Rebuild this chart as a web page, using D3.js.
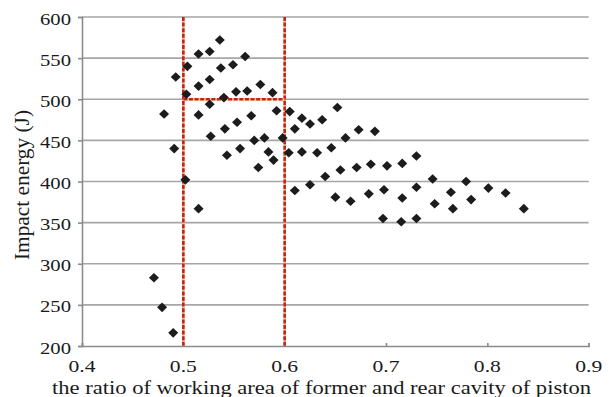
<!DOCTYPE html>
<html>
<head>
<meta charset="utf-8">
<script src="https://cdn.jsdelivr.net/npm/d3@7"></script>
<style>
html,body{margin:0;padding:0;background:#fff;}
svg{display:block;}
</style>
</head>
<body>
<svg id="chart" width="612" height="397"></svg>
<script>
// Data
const ratio = [0.471,0.479,0.490,0.481,0.491,0.4925,0.502,0.503,0.504,0.515,0.515,0.515,0.515,0.526,0.526,0.526,0.527,0.536,0.537,0.540,0.541,0.543,0.549,0.552,0.553,0.556,0.561,0.563,0.567,0.570,0.574,0.576,0.580,0.584,0.588,0.589,0.592,0.598,0.605,0.604,0.610,0.617,0.617,0.625,0.610,0.625,0.632,0.637,0.640,0.646,0.650,0.652,0.655,0.660,0.665,0.671,0.673,0.683,0.685,0.689,0.697,0.698,0.701,0.715,0.716,0.716,0.730,0.730,0.730,0.746,0.748,0.764,0.766,0.779,0.784,0.801,0.818,0.836];
const energy = [283,247,216,482,440,527,402,506,540,555,516,481,367,558,524,494,455,572,538,502,464,432,542,509,472,440,552,510,480,450,417,518,453,436,508,426,486,453,485,435,464,477,436,470,389,396,435,475,406,441,381,490,414,453,376,417,463,385,421,461,355,390,419,351,380,422,431,393,355,403,373,387,367,400,378,392,386,367];
const xTicks = [0.4,0.5,0.6,0.7,0.8,0.9];
const yTicks = [200,250,300,350,400,450,500,550,600];
const refX = [0.5,0.6];
const refY = [500];
const xTitle = "the ratio of working area of former and rear cavity of piston";
const yTitle = "Impact energy (J)";

const FONT = '"Liberation Serif"';
const svg = d3.select("#chart");
const x = d3.scaleLinear().domain([0.4,0.9]).range([82,588.7]);
const y = d3.scaleLinear().domain([200,600]).range([346,17]);

// horizontal gridlines
svg.append("g").selectAll("line").data(yTicks.filter(d=>d>200)).join("line")
  .attr("x1",x(0.4)).attr("x2",x(0.9))
  .attr("y1",d=>y(d)).attr("y2",d=>y(d))
  .attr("stroke","#a6a6a6").attr("stroke-width",1.6);

// y axis
const yAxis = svg.append("g").attr("transform",`translate(${x(0.4)},0)`)
  .call(d3.axisLeft(y).tickValues(yTicks).tickSize(4).tickFormat(""));
yAxis.selectAll("path,line").attr("stroke","#8c8c8c").attr("stroke-width",1.6);
svg.append("g").selectAll("text").data(yTicks).join("text")
  .style("font-family",FONT).attr("fill","#1a1a1a")
  .attr("x",71).attr("y",d=>y(d)+7.5)
  .attr("text-anchor","end").attr("font-size",17)
  .attr("textLength",31).attr("lengthAdjust","spacingAndGlyphs")
  .text(d=>d);

// x axis
const xAxis = svg.append("g").attr("transform",`translate(0,${y(200)})`)
  .call(d3.axisBottom(x).tickValues(xTicks).tickSize(-3).tickFormat(""));
xAxis.selectAll("path,line").attr("stroke","#8c8c8c").attr("stroke-width",1.6);
svg.append("g").selectAll("text").data(xTicks).join("text")
  .style("font-family",FONT).attr("fill","#1a1a1a")
  .attr("x",d=>x(d)).attr("y",372)
  .attr("text-anchor","middle").attr("font-size",17.5)
  .attr("textLength",27).attr("lengthAdjust","spacingAndGlyphs")
  .text(d=>d3.format(".1f")(d));

// reference lines (red dashed)
const refG = svg.append("g");
function refLine(x1,x2,y1,y2){
  refG.append("line").attr("x1",x1).attr("x2",x2).attr("y1",y1).attr("y2",y2)
    .attr("stroke","#e6c27a").attr("stroke-width",2.4);
  refG.append("line").attr("x1",x1).attr("x2",x2).attr("y1",y1).attr("y2",y2)
    .attr("stroke","#c42222").attr("stroke-width",2.6).attr("stroke-dasharray","4,1.6");
}
refX.forEach(v=>refLine(x(v),x(v),y(600),y(200)));
refY.forEach(v=>refLine(x(refX[0]),x(refX[1]),y(v),y(v)));

// points
const pts = ratio.map((r,i)=>({r, e:energy[i]}));
svg.append("g").selectAll("path").data(pts).join("path")
  .attr("transform",d=>`translate(${x(d.r)},${y(d.e)})`)
  .attr("d","M0,-4.8L5,0L0,4.8L-5,0Z")
  .attr("fill","#1c1c1c");

// titles
svg.append("text").style("font-family",FONT).attr("fill","#1a1a1a")
  .attr("x",321.5).attr("y",394)
  .attr("text-anchor","middle").attr("font-size",19.5)
  .attr("textLength",539).attr("lengthAdjust","spacingAndGlyphs")
  .text(xTitle);
svg.append("text").style("font-family",FONT).attr("fill","#1a1a1a")
  .attr("transform","translate(29,185) rotate(-90)")
  .attr("text-anchor","middle").attr("font-size",20)
  .attr("textLength",150).attr("lengthAdjust","spacingAndGlyphs")
  .text(yTitle);
</script>
</body>
</html>
